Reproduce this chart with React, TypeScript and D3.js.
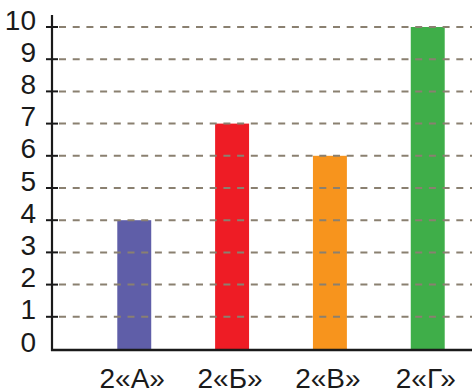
import React from "react";
import * as d3 from "d3";

const categories = ["2«А»", "2«Б»", "2«В»", "2«Г»"];
const values = [4, 7, 6, 10];
const colors = ["#5f5ea8", "#ee1c25", "#f7941d", "#3fae49"];
const yTicks = [0, 1, 2, 3, 4, 5, 6, 7, 8, 9, 10];

export default function App() {
  const W = 472, H = 390;
  const x0 = 52, xEnd = 472;
  const y = d3.scaleLinear().domain([0, 10]).range([349, 27]);
  const x = d3.scaleBand().domain(categories).range([85, 477]).paddingInner(0.653).paddingOuter(0.33);
  const font = "'Liberation Sans', Arial, sans-serif";
  return (
    <svg width={W} height={H} style={{ position: "absolute", left: 0, top: 0, background: "#fff" }}>
      {categories.map((c, i) => (
        <rect key={c} x={x(c)} y={y(values[i])} width={x.bandwidth()} height={y(0) - y(values[i])} fill={colors[i]} />
      ))}
      {yTicks.filter(t => t > 0).map(t => (
        <line key={"g" + t} x1={58} x2={xEnd} y1={y(t)} y2={y(t)} stroke="#8a8070" strokeWidth={2} strokeDasharray="7 6.7" strokeDashoffset={-1} />
      ))}
      {yTicks.filter(t => t > 0).map(t => (
        <line key={"t" + t} x1={46} x2={58} y1={y(t)} y2={y(t)} stroke="#1a1a1a" strokeWidth={2} />
      ))}
      <line x1={x0} x2={x0} y1={15} y2={351} stroke="#1a1a1a" strokeWidth={2.2} />
      <line x1={x0 - 1} x2={xEnd} y1={350} y2={350} stroke="#1a1a1a" strokeWidth={2.5} />
      {yTicks.map(t => (
        <text key={"l" + t} x={36} y={y(t) + 2.5} textAnchor="end" fontFamily={font} fontSize={28} fill="#1a1a1a">{t}</text>
      ))}
      {categories.map(c => (
        <text key={"c" + c} x={(x(c) as number) + x.bandwidth() / 2 - 2} y={388} textAnchor="middle" fontFamily={font} fontSize={28} fill="#1a1a1a">{c}</text>
      ))}
    </svg>
  );
}
